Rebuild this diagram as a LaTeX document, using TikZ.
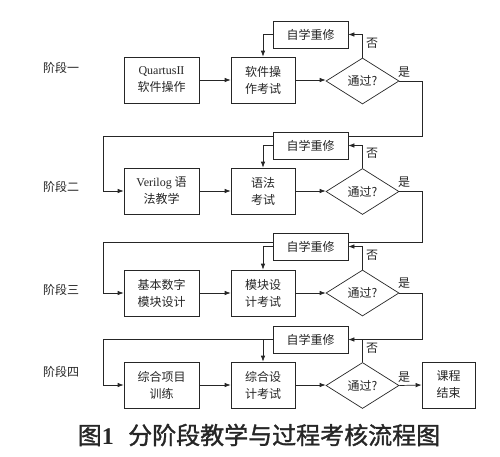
\documentclass[tikz,border=0pt]{standalone}
\usepackage{fontspec}
\setmainfont{Noto Sans CJK SC}
\newfontfamily\lat{Liberation Serif}
\newfontfamily\capfont{Noto Sans CJK SC}[FakeBold=1.3]
\usetikzlibrary{shapes.geometric,arrows.meta}
\begin{document}
\begin{tikzpicture}[x=1pt,y=-1pt,
  font=\fontsize{12}{17}\selectfont,
  line width=0.7pt, color=black!85,
  >={Latex[length=6pt,width=4.5pt]},
  box/.style={draw, fill=white, minimum width=75pt, minimum height=46pt, inner sep=0pt, align=center},
  exam/.style={box, minimum width=64pt},
  retake/.style={draw, fill=white, minimum width=75pt, minimum height=27pt, inner sep=0pt},
  dia/.style={draw, fill=white, shape=diamond, minimum width=73pt, minimum height=46pt, inner sep=0pt},
  lab/.style={inner sep=0pt}
]
\useasboundingbox (0,0) rectangle (500,456);

% stage labels
\node[lab] (s1) at (61,68) {阶段一};
\node[lab] (s2) at (61,187) {阶段二};
\node[lab] (s3) at (61,290) {阶段三};
\node[lab] (s4) at (61,372) {阶段四};

% main boxes
\node[box] (a1) at (161.5,80) {{\lat QuartusII}\\软件操作};
\node[exam] (b1) at (263,80) {软件操\\作考试};
\node[dia] (d1) at (362.5,81) {通过?};

\node[box] (a2) at (161.5,191) {{\lat Verilog} 语\\法教学};
\node[exam] (b2) at (263,191) {语法\\考试};
\node[dia] (d2) at (362.5,191.5) {通过?};

\node[box] (a3) at (161.5,293) {基本数字\\模块设计};
\node[exam] (b3) at (263,293) {模块设\\计考试};
\node[dia] (d3) at (362.5,293) {通过?};

\node[box] (a4) at (161.5,385) {综合项目\\训练};
\node[exam] (b4) at (263,385) {综合设\\计考试};
\node[dia] (d4) at (362.5,385.5) {通过?};
\node[box, minimum width=53pt] (e) at (448.5,385) {课程\\结束};

% corner coordinates of the pass lines
\coordinate (c1) at (422,136);
\coordinate (l1) at (103,136);
\coordinate (c2) at (422,242);
\coordinate (l2) at (103,242);
\coordinate (c3) at (422,339.5);
\coordinate (l3) at (103,339.5);

% pass lines (drawn below the retake boxes)
\draw[->] (d1.east) -| (c1) -- (l1) |- (a2.west);
\draw[->] (d2.east) -| (c2) -- (l2) |- (a3.west);

% retake boxes
\node[retake] (r1) at (310.5,34.5) {自学重修};
\node[retake] (r2) at (310.5,145.5) {自学重修};
\node[retake] (r3) at (310.5,246.5) {自学重修};
\node[retake] (r4) at (310.5,339.5) {自学重修};

\draw[->] (d3.east) -| (c3) -- (r4.east);
\draw (d4.north) -- (d4.north |- r4.east);
\draw[->] (r4.west) -- (l3) |- (a4.west);
\draw[->] (r4.west -| b4.north) -- (b4.north);

% flows
\foreach \i in {1,2,3,4}{
  \draw[->] (a\i.east) -- (b\i.west);
  \draw[->] (b\i.east) -- (b\i.east -| d\i.west);
}
\foreach \i in {1,2,3}{
  \draw[->] (d\i.north) |- (r\i.east);
  \draw[->] (r\i.west) -| (b\i.north);
}
\draw[->] (d4.east) -- (e.west);

% yes / no labels
\node[lab] (n1) at (372,43) {否};
\node[lab] (n2) at (372,153) {否};
\node[lab] (n3) at (372,255) {否};
\node[lab] (n4) at (372,348) {否};
\node[lab] (y1) at (404,72) {是};
\node[lab] (y2) at (404,182) {是};
\node[lab] (y3) at (404,283) {是};
\node[lab] (y4) at (404,377) {是};

% caption
\node[lab] (cap) at (259,435) {\fontsize{24}{26}\selectfont\capfont 图{\lat\bfseries 1}\hspace{0.6em}分阶段教学与过程考核流程图};
\end{tikzpicture}
\end{document}
